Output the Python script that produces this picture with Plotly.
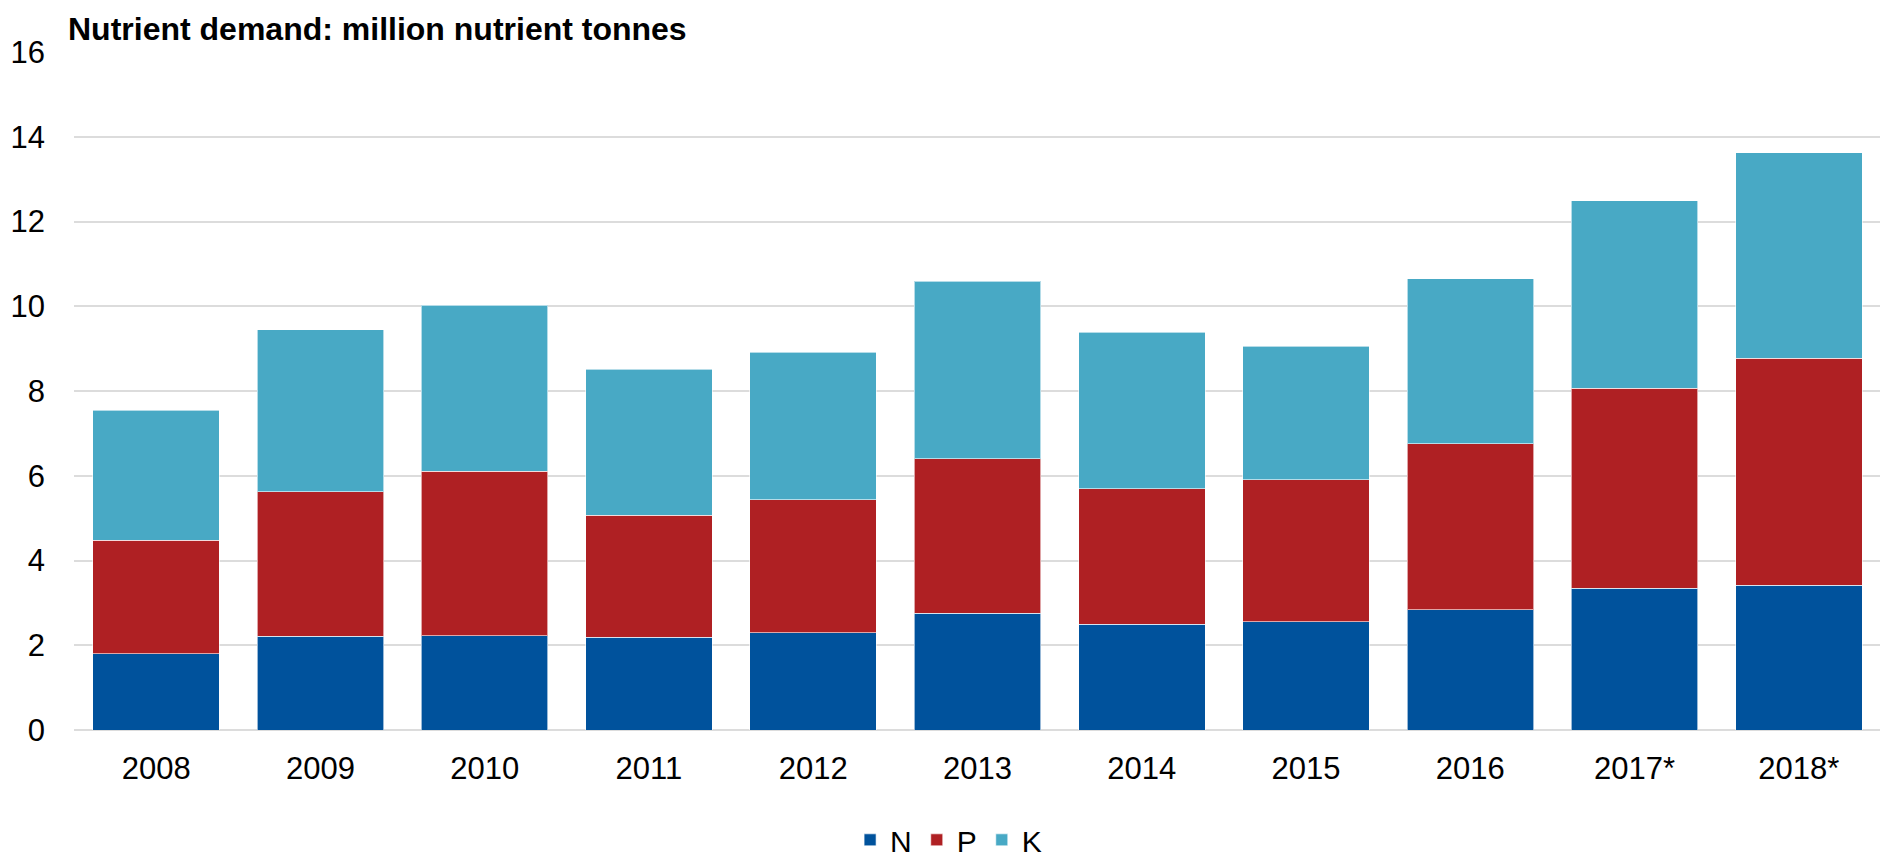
import plotly.graph_objects as go

## years on x axis (last two are forecasts)
years = ["2008", "2009", "2010", "2011", "2012", "2013", "2014", "2015", "2016", "2017*", "2018*"]

## nutrient demand, million nutrient tonnes
n_vals = [1.80, 2.21, 2.23, 2.19, 2.29, 2.75, 2.49, 2.55, 2.84, 3.35, 3.42]
p_vals = [2.68, 3.41, 3.88, 2.88, 3.14, 3.65, 3.20, 3.35, 3.91, 4.71, 5.35]
k_vals = [3.07, 3.82, 3.91, 3.44, 3.48, 4.19, 3.70, 3.16, 3.90, 4.43, 4.85]

y_ticks = [0, 2, 4, 6, 8, 10, 12, 14, 16]

font_name = "Liberation Sans, Arial, sans-serif"

# page body has an 8px margin, so the figure is a bit smaller than the window
W, H = 1880, 851

fig = go.Figure()
# stacked bars, bottom to top: N, P, K
fig.add_trace(go.Bar(x=years, y=n_vals, name="N", marker_color="#00529C"))
fig.add_trace(go.Bar(x=years, y=p_vals, name="P", marker_color="#AF2023"))
fig.add_trace(go.Bar(x=years, y=k_vals, name="K", marker_color="#48A9C5"))
fig.update_traces(marker_line=dict(color="rgba(255,255,255,0.6)", width=1))

fig.update_layout(
    barmode="stack",
    bargap=0.23,
    width=W,
    height=H,
    margin=dict(l=66, r=7, t=44, b=129, autoexpand=False),
    paper_bgcolor="white",
    plot_bgcolor="white",
    font=dict(family=font_name, size=31, color="black"),
    title=dict(
        text="Nutrient demand: million nutrient tonnes",
        font=dict(family=font_name, size=32, color="black", weight="bold"),
        xref="container", x=60 / W, xanchor="left",
        yref="container", y=1 - 21 / H, yanchor="middle",
    ),
    legend=dict(
        orientation="h",
        x=0.484, xanchor="center",
        y=-0.162, yanchor="middle",
        font=dict(size=30),
        traceorder="normal",
    ),
)

fig.update_xaxes(showgrid=False, showline=False, ticks="", ticklabelstandoff=17, automargin=False)
fig.update_yaxes(
    range=[0, 16],
    tickvals=y_ticks,
    showgrid=True, gridcolor="#DCDCDC", gridwidth=1.5,
    zeroline=True, zerolinecolor="#DCDCDC", zerolinewidth=1.5,
    showline=False, ticks="", ticklabelstandoff=28, automargin=False,
)

fig.write_html("out.html")
